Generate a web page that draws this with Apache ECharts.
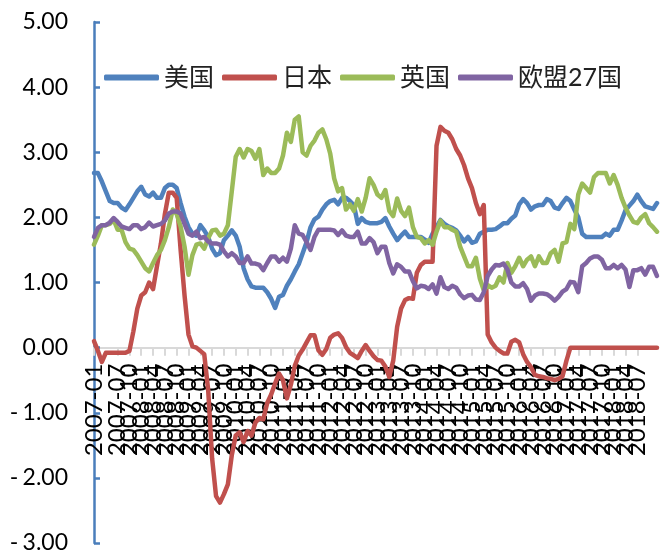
<!DOCTYPE html>
<html>
<head>
<meta charset="utf-8">
<script src="https://cdn.jsdelivr.net/npm/echarts@6/dist/echarts.min.js"></script>
<style>
  html, body { margin: 0; padding: 0; background: #ffffff; }
  #chart { width: 669px; height: 560px; }
</style>
</head>
<body>
<div id="chart"></div>
<script>
// Monthly months 2007-01 .. 2018-12
const months = [];
for (let y = 2007; y <= 2018; y++) {
  for (let m = 1; m <= 12; m++) {
    months.push(y + '-' + (m < 10 ? '0' + m : '' + m));
  }
}

const seriesNames = ['美国', '日本', '英国', '欧盟27国'];

const usa = [
  2.68, 2.68, 2.55, 2.40, 2.25, 2.22, 2.22, 2.15, 2.11, 2.20, 2.30, 2.40,
  2.47, 2.35, 2.32, 2.38, 2.30, 2.30, 2.45, 2.50, 2.50, 2.45, 2.22, 2.01,
  1.85, 1.75, 1.72, 1.88, 1.80, 1.70, 1.52, 1.42, 1.45, 1.65, 1.72, 1.80,
  1.72, 1.55, 1.22, 1.05, 0.94, 0.92, 0.92, 0.92, 0.85, 0.75, 0.61, 0.78,
  0.81, 0.95, 1.05, 1.17, 1.28, 1.45, 1.62, 1.85, 1.97, 2.01, 2.12, 2.20,
  2.25, 2.27, 2.20, 2.30, 2.30, 2.25, 2.19, 1.90, 1.99, 1.93, 1.91, 1.91,
  1.91, 1.93, 1.99, 1.86, 1.75, 1.65, 1.72, 1.78, 1.70, 1.70, 1.70, 1.70,
  1.66, 1.61, 1.75, 1.85, 1.96, 1.90, 1.86, 1.84, 1.80, 1.72, 1.63, 1.70,
  1.61, 1.63, 1.75, 1.78, 1.81, 1.81, 1.82, 1.86, 1.91, 1.91, 1.98, 2.03,
  2.20, 2.28, 2.22, 2.12, 2.17, 2.19, 2.19, 2.28, 2.25, 2.15, 2.13, 2.22,
  2.30, 2.25, 2.12, 2.00, 1.75, 1.70, 1.70, 1.70, 1.70, 1.70, 1.75, 1.72,
  1.81, 1.81, 1.95, 2.11, 2.18, 2.25, 2.35, 2.25, 2.17, 2.15, 2.13, 2.22
];

const japan = [
  0.10, -0.05, -0.22, -0.08, -0.08, -0.08, -0.08, -0.08, -0.08, -0.05, 0.25, 0.60,
  0.80, 0.85, 1.00, 0.90, 1.25, 1.60, 2.05, 2.38, 2.38, 2.30, 1.50, 0.80,
  0.20, 0.02, 0.00, -0.05, -0.10, -0.65, -1.70, -2.28, -2.38, -2.25, -2.10, -1.65,
  -1.35, -1.30, -1.45, -1.28, -1.35, -1.15, -1.08, -1.10, -0.85, -0.72, -0.55, -0.40,
  -0.50, -0.78, -0.57, -0.28, -0.12, -0.03, 0.08, 0.19, 0.19, -0.04, -0.11, -0.02,
  0.15, 0.20, 0.22, 0.15, 0.01, -0.08, -0.12, -0.16, -0.05, 0.04, -0.05, -0.13,
  -0.19, -0.20, -0.29, -0.45, -0.20, 0.32, 0.60, 0.73, 0.76, 0.75, 1.15, 1.27,
  1.32, 1.32, 1.32, 3.10, 3.39, 3.33, 3.30, 3.20, 3.05, 2.95, 2.80, 2.60,
  2.45, 2.22, 2.05, 2.19, 0.20, 0.08, 0.00, -0.05, -0.09, -0.09, 0.09, 0.12,
  0.08, -0.10, -0.22, -0.30, -0.42, -0.44, -0.45, -0.47, -0.48, -0.50, -0.48, -0.44,
  -0.20, 0.00, 0.00, 0.00, 0.00, 0.00, 0.00, 0.00, 0.00, 0.00, 0.00, 0.00,
  0.00, 0.00, 0.00, 0.00, 0.00, 0.00, 0.00, 0.00, 0.00, 0.00, 0.00, 0.00
];

const uk = [
  1.58, 1.72, 1.88, 1.88, 1.90, 1.96, 1.81, 1.81, 1.62, 1.52, 1.50, 1.42,
  1.32, 1.22, 1.17, 1.30, 1.42, 1.50, 1.65, 1.85, 2.12, 2.05, 1.86, 1.55,
  1.12, 1.42, 1.58, 1.60, 1.52, 1.68, 1.80, 1.81, 1.72, 1.75, 1.88, 2.40,
  2.93, 3.05, 2.92, 3.05, 3.02, 2.90, 3.05, 2.65, 2.75, 2.68, 2.68, 2.75,
  2.95, 3.30, 3.16, 3.50, 3.55, 3.00, 2.95, 3.10, 3.18, 3.30, 3.35, 3.20,
  2.98, 2.60, 2.40, 2.45, 2.12, 2.20, 2.10, 2.28, 2.09, 2.30, 2.60, 2.50,
  2.35, 2.30, 2.42, 2.10, 2.02, 2.29, 2.10, 2.02, 2.15, 1.85, 1.70, 1.68,
  1.60, 1.65, 1.58, 1.78, 1.95, 1.85, 1.85, 1.81, 1.78, 1.55, 1.40, 1.25,
  1.25, 1.38, 1.06, 0.88, 0.96, 0.92, 0.95, 1.08, 1.00, 1.30, 1.15, 1.25,
  1.38, 1.25, 1.35, 1.40, 1.25, 1.40, 1.30, 1.30, 1.45, 1.50, 1.32, 1.60,
  1.62, 1.90, 1.82, 2.35, 2.52, 2.45, 2.38, 2.62, 2.68, 2.68, 2.68, 2.52,
  2.65, 2.50, 2.30, 2.15, 2.03, 1.93, 1.91, 2.00, 2.05, 1.91, 1.85, 1.78
];

const eu27 = [
  1.70, 1.84, 1.88, 1.88, 1.92, 1.99, 1.93, 1.86, 1.84, 1.82, 1.88, 1.88,
  1.82, 1.85, 1.92, 1.86, 1.88, 1.90, 1.95, 2.06, 2.09, 2.09, 2.06, 1.90,
  1.75, 1.72, 1.78, 1.68, 1.70, 1.63, 1.60, 1.60, 1.58, 1.48, 1.40, 1.45,
  1.40, 1.30, 1.30, 1.40, 1.29, 1.29, 1.27, 1.19, 1.30, 1.40, 1.40, 1.32,
  1.38, 1.32, 1.52, 1.88, 1.75, 1.73, 1.62, 1.50, 1.70, 1.81, 1.81, 1.81,
  1.81, 1.80, 1.73, 1.80, 1.72, 1.70, 1.70, 1.78, 1.60, 1.60, 1.68, 1.62,
  1.45, 1.55, 1.55, 1.30, 1.14, 1.28, 1.24, 1.17, 1.17, 1.02, 0.91, 0.95,
  0.94, 0.90, 0.97, 0.83, 1.08, 0.93, 0.90, 0.95, 0.92, 0.82, 0.76, 0.80,
  0.81, 0.74, 0.73, 0.85, 1.10, 1.20, 1.27, 1.26, 1.29, 1.20, 1.00, 0.94,
  0.94, 0.99, 0.90, 0.72, 0.80, 0.83, 0.83, 0.82, 0.78, 0.72, 0.78, 0.86,
  0.90, 1.01, 1.00, 0.85, 1.25, 1.30, 1.37, 1.40, 1.40, 1.35, 1.22, 1.22,
  1.27, 1.22, 1.27, 1.20, 0.93, 1.19, 1.19, 1.22, 1.12, 1.24, 1.24, 1.10
];

const yTicks = { min: -3, max: 5, interval: 1 };
const colors = ['#4F81BD', '#C0504D', '#9BBB59', '#8064A2'];
const values = [usa, japan, uk, eu27];

const chart = echarts.init(document.getElementById('chart'), null, { renderer: 'canvas' });

const latin = 'Lato, "Noto Sans CJK SC", sans-serif';

// Plot box in pixels; the category axis sits on the zero line of the value axis.
const gridTop = 22, gridBottom = 17, chartHeight = 560;
const plotHeight = chartHeight - gridTop - gridBottom;
const zeroOffset = -plotHeight * (0 - yTicks.min) / (yTicks.max - yTicks.min);

chart.setOption({
  animation: false,
  backgroundColor: '#ffffff',
  color: colors,
  grid: {
    left: 94, right: 12, top: gridTop, bottom: gridBottom,
    containLabel: false,
    outerBoundsMode: 'none'
  },
  legend: {
    left: 99,
    top: 60,
    itemWidth: 55,
    itemHeight: 6,
    itemGap: 8,
    icon: 'roundRect',
    textStyle: { fontFamily: latin, fontSize: 25, color: '#222222' },
    data: seriesNames
  },
  xAxis: {
    type: 'category',
    data: months,
    boundaryGap: false,
    position: 'bottom',
    offset: zeroOffset,
    axisLine: { onZero: false, lineStyle: { color: '#d9d9d9', width: 2 } },
    axisTick: { show: true, interval: 2, length: 8, lineStyle: { color: '#d9d9d9', width: 2 } },
    axisLabel: {
      interval: 2,
      rotate: 90,
      margin: 16,
      color: '#000000',
      fontFamily: latin,
      fontSize: 24,
      showMinLabel: true,
      showMaxLabel: false,
      hideOverlap: false
    },
    splitLine: { show: false }
  },
  yAxis: {
    type: 'value',
    min: yTicks.min,
    max: yTicks.max,
    interval: yTicks.interval,
    axisLine: { show: true, lineStyle: { color: '#4A7EBB', width: 2.5 } },
    axisTick: { show: true, inside: true, length: 6, lineStyle: { color: '#4A7EBB', width: 2.5 } },
    axisLabel: {
      margin: 26,
      color: '#000000',
      fontFamily: latin,
      fontSize: 23,
      formatter: v => {
        const s = Math.abs(v).toFixed(2);
        return v < 0 ? '{m|-}' + s : s;
      },
      rich: {
        m: { width: 17, align: 'center', fontFamily: latin, fontSize: 23, color: '#000000' }
      }
    },
    splitLine: { show: false }
  },
  series: seriesNames.map((name, k) => ({
    name: name,
    type: 'line',
    data: values[k],
    symbol: 'none',
    lineStyle: { width: 4.5, color: colors[k], cap: 'round', join: 'round' },
    itemStyle: { color: colors[k] }
  }))
});
</script>
</body>
</html>
